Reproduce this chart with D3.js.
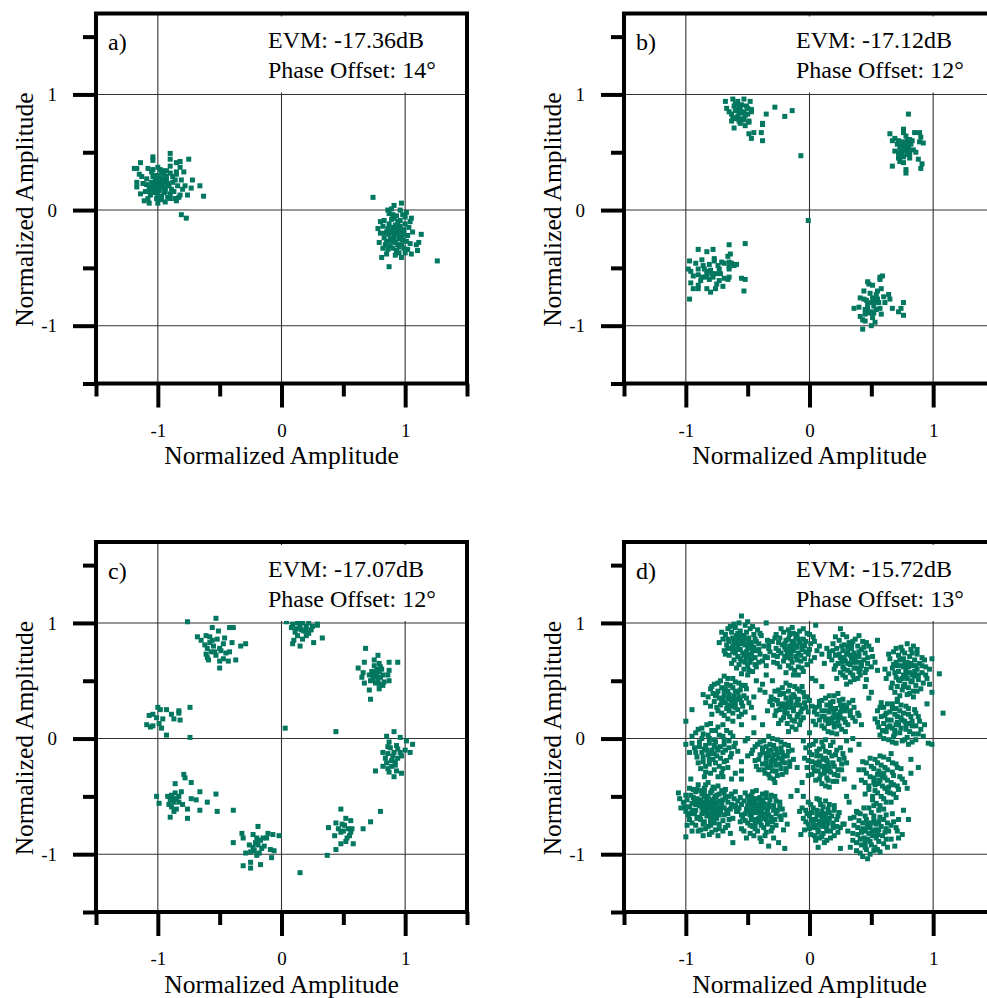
<!DOCTYPE html>
<html><head><meta charset="utf-8">
<script src="https://cdn.jsdelivr.net/npm/d3@7"></script>
<style>
body{margin:0;background:#fff}
text{font-family:"Liberation Serif","Times New Roman",serif;fill:#000}
</style></head><body><div id="chart"></div>
<script>
const panelLabels = ['a)', 'b)', 'c)', 'd)']
const evmLabels = ['EVM: -17.36dB', 'EVM: -17.12dB', 'EVM: -17.07dB', 'EVM: -15.72dB']
const phaseLabels = ['Phase Offset: 14°', 'Phase Offset: 12°', 'Phase Offset: 12°', 'Phase Offset: 13°']
const axisTitle = 'Normalized Amplitude'
const majorTicks = [-1, 0, 1]
const minorTicks = [-1.5, -0.5, 0.5, 1.5]
const gridValues = [-1, 0, 1]
const xDomain = [-1.5, 1.5]
const yDomain = [-1.5, 1.7]

// a) BPSK
const pointsA = [
[-.90,.49],[-1.04,.46],[-1.04,.43],[-.90,.44],[-.75,.44],[-1.14,.41],[-.85,.41],[-.82,.42],[-.90,.38],[-.82,.37],[-1.19,.36],[-1.17,.36],[-1.08,.36],[-1.04,.35],[-.96,.34],[-.90,.32],[-.85,.33],[-.85,.31],[-.79,.33],[-.72,.26],[-.81,.26],[-.66,.21],[-.73,.19],[-.76,.13],[-.63,.12],[-.81,-.04],[-.77,-.07],[-1.07,.06],[-1.17,.20],[-1.17,.24],
[-1.0,.22],[-.98,.25],[-1.02,.19],[-.96,.2],[-1.05,.24],[-.99,.28],[-1.03,.15],[-.94,.16],[-1.07,.2],[-.97,.12],[-1.01,.3],[-.93,.26],[-1.09,.27],[-1.1,.16],[-.95,.31],[-1.04,.29],[-.91,.21],[-.99,.17],[-1.06,.13],[-.92,.11],[-1.12,.23],[-.97,.09],[-1.01,.1],[-.89,.18],[-.88,.24],[-1.13,.29],[-1.05,.33],[-.98,.35],[-.93,.29],[-1.08,.1],[-.95,.24],[-1.02,.26],[-.99,.21],[-1.03,.22],[-.96,.27],[-1.0,.14],[-.94,.19],[-1.06,.17],[-.9,.14],[-.86,.1],[-.87,.16],[-.84,.21],[-.82,.13],[-.85,.08],[-.8,.18],[-.88,.29],[-1.14,.14],[-1.11,.08],[-1.0,.06],[-.94,.07],[-.97,.32],[-1.15,.31],[-1.0,.37],[-.9,.1],[-.83,.11],[-.78,.21],[-.86,.26],[-1.01,.17],[-.97,.23],[-1.04,.2],[-.98,.19],[-1.02,.23],[-.95,.15],[-1.09,.22],[-.92,.23],[-.99,.11],[-.93,.34],
[.74,.11],[.97,.06],[.91,.04],[.86,0],[.89,.01],[.96,0],[1.01,-.02],[1.05,-.07],[1.13,-.21],[1.11,-.28],[1.09,-.30],[1.10,-.35],[1.05,-.38],[.81,-.41],[.87,-.49],[1.26,-.44],[1.0,-.37],[.95,-.37],
[.93,-.2],[.9,-.15],[.96,-.23],[.88,-.25],[.99,-.17],[.85,-.19],[.92,-.28],[1.02,-.22],[.94,-.1],[.87,-.12],[.97,-.3],[.9,-.33],[1.0,-.12],[.83,-.24],[.95,-.16],[.89,-.08],[.84,-.3],[.98,-.26],[1.03,-.15],[.91,-.22],[.86,-.16],[.93,-.05],[.8,-.2],[.82,-.14],[.96,-.09],[1.04,-.29],[.88,-.31],[.93,-.35],[.99,-.33],[.85,-.27],[.92,-.13],[.9,-.19],[.95,-.25],[.97,-.19],[.87,-.21],[1.01,-.27],[.94,-.3],[.79,-.28],[.83,-.09],[.91,-.07],[.98,-.04],[1.06,-.19],[1.04,-.1],[.86,-.34],[.95,-.32],[.89,-.27],[.92,-.17],[.96,-.14],[.84,-.2],[.99,-.21],[.9,-.04],[.87,-.03],[.8,-.1],[1.02,-.34],[.94,-.21],[.91,-.26],[.97,-.24],[.88,-.18],[.93,-.14],[1.0,-.06],[.82,-.33],[.85,-.38],[.92,-.39],[.97,-.41],[.78,-.16]
]

// b) QPSK
const pointsB = [
[-.68,.94],[-.62,.96],[-.58,.94],[-.53,.96],[-.48,.94],[-.67,.88],[-.61,.9],[-.55,.91],[-.51,.9],[-.58,.87],[-.47,.87],[-.47,.85],[-.63,.83],[-.57,.84],[-.53,.85],[-.58,.81],[-.55,.78],[-.57,.77],[-.63,.77],[-.54,.79],[-.49,.77],[-.49,.76],[-.61,.71],[-.49,.66],[-.45,.67],[-.47,.62],[-.39,.67],[-.38,.75],[-.38,.74],[-.38,.6],[-.35,.83],[-.28,.89],[-.2,.81],[-.14,.86],[-.07,.47],[-.01,-.09],
[-.6,.86],[-.56,.88],[-.52,.82],[-.59,.79],[-.54,.84],[-.5,.88],[-.62,.8],[-.56,.75],[-.52,.73],[-.6,.92],[-.65,.85],[-.5,.83],[-.57,.9],[-.53,.78],
[.80,.83],[.65,.66],[.69,.62],[.67,.6],[.76,.7],[.76,.67],[.78,.64],[.81,.61],[.85,.67],[.89,.67],[.9,.63],[.89,.59],[.92,.58],[.69,.51],[.72,.49],[.84,.52],[.86,.5],[.73,.42],[.76,.41],[.81,.45],[.88,.44],[.91,.4],[.9,.36],[.67,.38],[.78,.35],[.78,.32],
[.74,.55],[.77,.58],[.8,.53],[.72,.6],[.79,.48],[.75,.5],[.82,.57],[.76,.46],[.73,.53],[.78,.52],[.81,.49],[.77,.55],[.75,.59],[.8,.56],[.74,.47],[.83,.6],[.71,.57],[.79,.6],[.76,.52],[.72,.45],
[-.9,-.34],[-.83,-.36],[-.78,-.34],[-.65,-.3],[-.52,-.29],[-.64,-.38],[-.66,-.4],[-.97,-.44],[-.92,-.46],[-.87,-.43],[-.77,-.42],[-.77,-.44],[-.71,-.45],[-.69,-.46],[-.65,-.45],[-.63,-.46],[-.59,-.47],[-.61,-.48],[-.73,-.51],[-.65,-.49],[-.65,-.51],[-.98,-.51],[-.96,-.53],[-.9,-.51],[-.85,-.51],[-.83,-.53],[-.8,-.52],[-.94,-.57],[-.9,-.56],[-.87,-.58],[-.83,-.56],[-.79,-.55],[-.76,-.55],[-.69,-.59],[-.66,-.6],[-.65,-.58],[-.55,-.59],[-.52,-.6],[-.96,-.63],[-.94,-.68],[-.9,-.65],[-.9,-.68],[-.83,-.68],[-.8,-.71],[-.76,-.68],[-.75,-.64],[-.73,-.61],[-.53,-.7],[-.97,-.77],[-.84,-.58],[-.81,-.6],
[-.86,-.48],[-.81,-.47],[-.74,-.48],[-.78,-.58],[-.72,-.55],[-.88,-.61],[-.7,-.66],
[.59,-.57],[.57,-.58],[.57,-.6],[.47,-.62],[.51,-.65],[.48,-.64],[.44,-.7],[.55,-.7],[.54,-.73],[.64,-.73],[.65,-.77],[.41,-.76],[.44,-.77],[.46,-.78],[.51,-.76],[.53,-.79],[.55,-.77],[.56,-.8],[.61,-.8],[.67,-.85],[.76,-.8],[.74,-.85],[.72,-.88],[.76,-.91],[.36,-.85],[.4,-.84],[.45,-.86],[.47,-.85],[.5,-.88],[.58,-.9],[.41,-.92],[.43,-.95],[.45,-.96],[.51,-.93],[.53,-.97],[.5,-1.0],[.43,-1.03],[.48,-.89],[.52,-.89],
[.49,-.72],[.52,-.83],[.57,-.85],[.47,-.81],[.54,-.86],[.6,-.75],[.5,-.8],[.58,-.68],[.45,-.9]
]

// c) 8-PSK
const pointsC = [
[-.76,1.01],[-.53,1.04],[-.56,.96],[-.51,.93],[-.42,.96],[-.39,.96],[-.68,.88],[-.65,.85],[-.61,.89],[-.58,.88],[-.56,.85],[-.62,.81],[-.46,.87],[-.4,.83],[-.33,.8],[-.29,.82],[-.61,.73],[-.57,.75],[-.54,.75],[-.49,.76],[-.42,.75],[-.59,.68],[-.5,.67],[-.47,.69],[-.43,.67],[-.37,.68],[-.5,.61],[-.6,.7],
[-.55,.8],[-.5,.78],[-.58,.83],[-.47,.82],[-.53,.72],[-.45,.74],[-.6,.78],[-.52,.86],
[.04,1.01],[.09,.99],[.13,1.0],[.17,1.0],[.22,1.0],[.29,.99],[.12,.95],[.16,.94],[.2,.97],[.24,.94],[.29,.98],[.13,.89],[.2,.89],[.09,.82],[.15,.8],[.1,.85],[.26,.83],[.33,.87],
[.18,.93],[.11,.92],[.22,.91],[.15,.97],[.08,.96],[.25,.97],[.17,.86],[.2,.94],
[.68,.78],[.78,.72],[.75,.68],[.79,.65],[.67,.66],[.62,.61],[.66,.57],[.65,.53],[.87,.66],[.94,.66],[.87,.59],[.86,.55],[.87,.5],[.71,.42],[.72,.34],[.79,.43],[.67,.48],[.82,.46],
[.74,.56],[.77,.6],[.8,.53],[.72,.5],[.76,.48],[.79,.58],[.75,.63],[.82,.55],[.73,.58],[.78,.51],[.81,.6],[.74,.52],[.77,.54],[.83,.49],[.76,.57],[.79,.47],[.71,.55],[.8,.62],
[.91,.06],[.85,.02],[.96,.01],[.87,-.03],[.93,-.06],[1.01,-.02],[1.06,-.05],[.82,-.12],[.86,-.13],[.91,-.12],[.96,-.12],[1.0,-.1],[1.04,-.12],[.84,-.17],[.89,-.19],[.94,-.17],[.82,-.24],[.86,-.26],[.92,-.23],[.76,-.28],[.87,-.29],[.91,-.33],[.93,-.28],[.97,-.3],
[.9,-.15],[.88,-.08],[.94,-.09],[.85,-.21],[.92,-.2],[.97,-.15],[.89,-.24],[.86,-.07],
[.48,-.61],[.8,-.63],[.52,-.69],[.56,-.71],[.44,-.73],[.72,-.72],[.66,-.78],[.38,-.77],[.51,-.75],[.54,-.78],[.57,-.78],[.43,-.84],[.48,-.81],[.55,-.84],[.48,-.91],[.52,-.89],[.58,-.91],[.44,-.96],[.37,-1.01],
[.5,-.8],[.46,-.78],[.53,-.86],[.49,-.74],[.56,-.81],
[-.19,-.76],[-.32,-.82],[-.31,-.86],[-.23,-.83],[-.2,-.86],[-.11,-.82],[-.07,-.83],[-.02,-.84],[-.15,-.86],[-.12,-.86],[-.39,-.9],[-.26,-.92],[-.23,-.94],[-.19,-.92],[-.16,-.95],[-.29,-.99],[-.25,-.98],[-.2,-1.01],[-.18,-.99],[-.09,-.96],[-.06,-.97],[-.08,-1.03],[-.25,-1.07],[-.17,-1.09],[-.31,-1.1],[-.25,-1.12],
[-.21,-.9],[-.14,-.93],[-.22,-.97],[-.17,-.88],
[-.79,-.31],[-.78,-.34],[-.73,-.38],[-.86,-.39],[-1.01,-.5],[-.99,-.56],[-.92,-.5],[-.89,-.49],[-.9,-.53],[-.87,-.55],[-.85,-.52],[-.83,-.5],[-.81,-.46],[-.85,-.61],[-.87,-.63],[-.89,-.59],[-.9,-.68],[-.76,-.61],[-.76,-.69],[-.73,-.52],[-.69,-.53],[-.66,-.46],[-.6,-.55],[-.53,-.48],[-.66,-.62],[-.52,-.63],[-.39,-.62],
[-.83,-.55],[-.88,-.52],[-.86,-.47],[-.8,-.57],[-.91,-.57],
[-1.0,.27],[-.98,.25],[-.93,.25],[-.83,.24],[-.83,.22],[-.74,.27],[-1.07,.2],[-1.04,.21],[-1.01,.18],[-.89,.21],[-.87,.17],[-.82,.16],[-1.09,.12],[-1.06,.1],[-1.04,.11],[-.99,.13],[-.97,.09],[-.93,.03],[-.96,.17],
[-.74,.01],[.03,.09],[.44,.06],[.15,-1.16]
]

// d) 16-QAM
const pointsD = [
[-.55,1.06],[-.57,1.0],[-.52,.98],[-.6,.96],[-.66,.95],[-.48,.95],[-.42,.94],[-.63,.92],[-.56,.93],[-.51,.92],[-.45,.9],[-.68,.9],[-.59,.89],[-.53,.89],[-.39,.89],[-.62,.87],[-.57,.86],[-.49,.87],[-.44,.86],[-.7,.86],[-.65,.84],[-.6,.83],[-.54,.84],[-.47,.83],[-.41,.82],[-.67,.81],[-.58,.8],[-.52,.81],[-.45,.79],[-.37,.8],[-.63,.78],[-.56,.77],[-.5,.78],[-.43,.76],[-.69,.76],[-.6,.74],[-.54,.74],[-.47,.73],[-.4,.73],[-.65,.72],[-.58,.71],[-.51,.7],[-.44,.7],[-.61,.68],[-.55,.67],[-.48,.66],[-.38,.67],[-.57,.64],[-.5,.63],[-.43,.62],[-.53,.6],[-.46,.58],[-.35,.63],[-.58,.82],[-.62,.8],[-.5,.85],[-.55,.89],[-.46,.76],[-.53,.72],[-.66,.78],[-.6,.86],[-.49,.81],[-.41,.66],[-.34,.85],
[-.61,.99],[-.5,1.01],[-.64,.97],[-.46,.97],[-.71,.92],[-.4,.91],[-.58,.91],[-.53,.87],[-.66,.86],[-.43,.84],[-.59,.77],[-.48,.79],[-.62,.75],[-.51,.75],[-.41,.77],[-.68,.73],[-.56,.69],[-.47,.69],[-.36,.71],[-.63,.65],[-.52,.66],[-.44,.64],[-.59,.61],[-.49,.59],[-.55,.56],[-.73,.83],[-.33,.78],[-.61,.84],[-.55,.82],[-.5,.72],
[-.14,.96],[-.08,.93],[-.21,.92],[-.02,.91],[-.27,.9],[-.16,.9],[-.11,.88],[.03,.88],[-.24,.87],[-.05,.86],[-.19,.85],[-.13,.84],[-.3,.84],[-.08,.83],[.01,.82],[-.22,.81],[-.16,.8],[-.1,.79],[-.04,.8],[-.27,.78],[-.19,.77],[-.13,.76],[-.06,.77],[.06,.76],[-.32,.75],[-.23,.74],[-.15,.73],[-.09,.74],[-.01,.73],[-.26,.71],[-.18,.7],[-.11,.71],[-.04,.69],[.04,.7],[-.21,.67],[-.14,.66],[-.07,.67],[-.29,.66],[-.17,.63],[-.09,.62],[-.02,.64],[-.24,.62],[-.12,.59],[-.05,.58],[-.2,.79],[-.12,.81],[-.07,.72],[-.15,.69],[-.25,.83],[0,.77],[-.1,.9],[-.18,.74],[-.03,.84],[.08,.8],[-.34,.7],[-.13,.55],
[-.17,.94],[-.05,.95],[-.23,.95],[0,.9],[-.13,.91],[-.28,.87],[-.17,.86],[-.09,.86],[-.33,.81],[-.2,.82],[-.06,.81],[.04,.84],[-.25,.76],[-.14,.79],[-.03,.75],[.1,.73],[-.29,.72],[-.2,.71],[-.1,.68],[.01,.67],[-.26,.65],[-.15,.61],[-.06,.61],[-.19,.57],[-.09,.55],[-.14,.83],[-.17,.76],
[.3,.88],[.37,.86],[.24,.85],[.43,.84],[.32,.83],[.19,.82],[.28,.81],[.39,.8],[.48,.8],[.22,.78],[.34,.78],[.42,.77],[.27,.76],[.16,.75],[.36,.74],[.45,.74],[.3,.73],[.21,.72],[.4,.71],[.51,.71],[.25,.7],[.34,.69],[.44,.68],[.18,.68],[.29,.67],[.38,.66],[.47,.65],[.23,.65],[.33,.64],[.42,.63],[.27,.62],[.36,.61],[.5,.62],[.2,.6],[.31,.59],[.4,.58],[.45,.57],[.25,.57],[.35,.55],[.29,.53],[.39,.52],[.33,.49],[.31,.75],[.37,.71],[.26,.66],[.41,.6],[.35,.66],[.28,.7],[.44,.79],[.14,.78],[.53,.66],[.22,.52],[.46,.51],[.34,.82],
[.27,.9],[.4,.89],[.21,.88],[.35,.84],[.46,.83],[.26,.8],[.31,.79],[.5,.77],[.19,.76],[.4,.75],[.33,.72],[.24,.73],[.47,.7],[.16,.71],[.37,.68],[.31,.65],[.42,.66],[.21,.63],[.38,.61],[.28,.6],[.46,.6],[.33,.57],[.41,.55],[.27,.55],[.36,.51],[.3,.47],[.55,.59],[.12,.65],
[.74,.79],[.82,.77],[.68,.75],[.77,.74],[.87,.73],[.72,.72],[.81,.71],[.91,.7],[.65,.69],[.76,.69],[.85,.68],[.7,.66],[.79,.66],[.89,.65],[.74,.63],[.83,.63],[.94,.62],[.67,.61],[.78,.6],[.87,.6],[.72,.58],[.81,.57],[.91,.57],[.64,.56],[.76,.55],[.85,.54],[.7,.53],[.79,.52],[.88,.51],[.95,.52],[.73,.5],[.82,.49],[.67,.48],[.77,.47],[.86,.46],[.71,.45],[.8,.44],[.9,.43],[.75,.42],[.84,.41],[.69,.4],[.79,.38],[.73,.37],[.78,.57],[.8,.62],[.75,.52],[.83,.55],[.86,.63],[.71,.63],[.92,.48],[.62,.52],[.84,.8],[1.05,.56],[.97,.6],[.77,.65],
[.79,.82],[.7,.78],[.87,.77],[.75,.76],[.64,.73],[.83,.74],[.93,.68],[.73,.68],[.82,.65],[.68,.64],[.91,.63],[.76,.62],[.85,.58],[.69,.57],[.94,.55],[.78,.54],[.88,.55],[.72,.51],[.83,.5],[.66,.44],[.76,.45],[.87,.41],[.81,.39],[.71,.34],[.84,.36],[.97,.47],[.61,.6],[.99,.69],
[-.66,.52],[-.72,.5],[-.6,.49],[-.77,.47],[-.67,.47],[-.55,.46],[-.71,.44],[-.62,.44],[-.8,.43],[-.51,.43],[-.74,.41],[-.66,.41],[-.58,.4],[-.78,.39],[-.69,.38],[-.61,.37],[-.53,.37],[-.82,.36],[-.73,.35],[-.64,.34],[-.56,.34],[-.77,.32],[-.68,.31],[-.6,.31],[-.49,.31],[-.72,.29],[-.63,.28],[-.54,.28],[-.8,.28],[-.67,.26],[-.58,.25],[-.74,.24],[-.62,.22],[-.52,.23],[-.69,.2],[-.65,.38],[-.7,.35],[-.6,.41],[-.63,.33],[-.57,.36],[-.75,.38],[-.68,.43],[-.45,.36],[-.47,.27],[-.57,.19],[-.84,.31],[-.66,.29],[-.5,.55],[-.43,.5],[-.38,.47],[-.55,.12],[-.62,.15],[-.45,.18],
[-.69,.54],[-.62,.52],[-.74,.48],[-.57,.48],[-.64,.46],[-.52,.46],[-.79,.45],[-.69,.42],[-.56,.42],[-.76,.37],[-.66,.35],[-.59,.34],[-.51,.35],[-.71,.32],[-.62,.3],[-.55,.31],[-.75,.27],[-.65,.24],[-.6,.27],[-.71,.22],[-.55,.21],[-.66,.17],[-.79,.21],[-.86,.38],
[-.16,.46],[-.22,.44],[-.1,.43],[-.28,.41],[-.17,.41],[-.05,.4],[-.24,.38],[-.13,.38],[-.31,.36],[-.02,.36],[-.19,.35],[-.09,.34],[-.26,.33],[-.15,.32],[-.04,.31],[-.21,.3],[-.11,.29],[-.3,.29],[-.17,.27],[-.06,.26],[-.24,.25],[-.13,.24],[-.01,.23],[-.2,.22],[-.09,.21],[-.28,.2],[-.16,.19],[-.05,.18],[-.23,.16],[-.12,.15],[-.18,.13],[-.08,.12],[-.14,.1],[-.15,.28],[-.1,.32],[-.2,.26],[-.12,.36],[-.07,.23],[-.25,.3],[-.34,.24],[.02,.28],[-.17,.06],[-.36,.4],
[-.19,.48],[-.12,.45],[-.25,.42],[-.08,.41],[-.21,.39],[-.15,.36],[-.04,.36],[-.29,.34],[-.17,.31],[-.08,.29],[-.23,.28],[-.13,.26],[-.03,.27],[-.27,.24],[-.18,.22],[-.1,.19],[-.21,.18],[-.14,.16],[-.07,.16],[-.25,.13],[-.11,.08],[-.32,.32],[0,.33],[-.06,.45],
[.2,.37],[.13,.35],[.27,.34],[.08,.32],[.19,.32],[.32,.31],[.14,.29],[.25,.29],[.05,.27],[.36,.27],[.21,.26],[.1,.24],[.29,.24],[.16,.23],[.39,.22],[.06,.21],[.24,.21],[.33,.2],[.12,.19],[.19,.18],[.28,.17],[.08,.16],[.23,.15],[.37,.15],[.15,.13],[.31,.12],[.1,.11],[.2,.1],[.26,.08],[.15,.06],[.22,.04],[.2,.22],[.17,.27],[.25,.18],[.13,.16],[.3,.27],[.18,.14],[.42,.12],[.03,.15],
[.23,.39],[.16,.37],[.1,.33],[.24,.33],[.35,.33],[.17,.31],[.28,.29],[.08,.28],[.19,.26],[.33,.24],[.13,.24],[.25,.23],[.04,.23],[.22,.19],[.35,.18],[.1,.19],[.16,.17],[.29,.14],[.05,.12],[.2,.13],[.12,.09],[.24,.11],[.18,.05],[.29,.06],[.4,.2],[.26,.26],
[.67,.3],[.74,.29],[.6,.27],[.7,.26],[.8,.26],[.55,.24],[.65,.23],[.76,.22],[.86,.22],[.61,.2],[.71,.19],[.82,.19],[.53,.17],[.66,.16],[.77,.15],[.89,.15],[.6,.13],[.72,.12],[.83,.11],[.56,.1],[.67,.09],[.78,.08],[.9,.08],[.62,.06],[.73,.05],[.84,.04],[.57,.03],[.68,.02],[.79,.01],[.64,-.01],[.75,-.02],[.86,-.01],[.7,-.04],[.8,-.05],[.7,.12],[.75,.16],[.65,.11],[.8,.13],[.69,.07],[.92,.02],[.96,-.04],[.99,-.05],[1.08,.22],[.58,.31],
[.71,.32],[.63,.3],[.78,.28],[.57,.27],[.67,.26],[.85,.25],[.73,.24],[.62,.22],[.8,.21],[.69,.21],[.58,.19],[.88,.19],[.74,.18],[.63,.16],[.83,.15],[.71,.14],[.55,.14],[.78,.12],[.86,.11],[.63,.1],[.74,.09],[.59,.07],[.81,.06],[.69,.04],[.88,.04],[.6,0],[.77,-.01],[.67,-.03],[.83,-.03],[.93,.12],
[-.83,.12],[-.74,.1],[-.9,.08],[-.79,.07],[-.67,.07],[-.86,.04],[-.73,.03],[-.95,.02],[-.62,.02],[-.81,0],[-.69,-.01],[-.89,-.03],[-.76,-.03],[-.6,-.04],[-.84,-.06],[-.72,-.07],[-.93,-.08],[-.65,-.08],[-.79,-.1],[-.87,-.12],[-.7,-.12],[-.58,-.11],[-.82,-.14],[-.75,-.15],[-.91,-.16],[-.64,-.16],[-.78,-.18],[-.86,-.2],[-.69,-.2],[-.81,-.22],[-.73,-.24],[-.88,-.26],[-.66,-.25],[-.77,-.27],[-.84,-.29],[-.71,-.3],[-.77,-.06],[-.8,-.13],[-.74,-.1],[-.85,-.09],[-.97,-.12],[-1.0,-.05],[-.52,-.02],[-.55,-.2],
[-.8,.13],[-.7,.12],[-.87,.09],[-.76,.07],[-.64,.05],[-.92,.05],[-.82,.03],[-.7,.02],[-.87,0],[-.77,-.01],[-.65,-.02],[-.95,-.04],[-.81,-.04],[-.69,-.05],[-.89,-.07],[-.75,-.08],[-.61,-.07],[-.83,-.1],[-.68,-.1],[-.92,-.12],[-.77,-.13],[-.63,-.13],[-.86,-.16],[-.72,-.17],[-.81,-.18],[-.67,-.19],[-.9,-.21],[-.76,-.21],[-.84,-.24],[-.7,-.26],[-.8,-.3],[-.74,-.33],
[-.3,0],[-.37,-.02],[-.23,-.03],[-.42,-.05],[-.32,-.05],[-.17,-.06],[-.38,-.08],[-.27,-.09],[-.46,-.1],[-.14,-.1],[-.33,-.11],[-.22,-.12],[-.4,-.14],[-.29,-.14],[-.18,-.15],[-.35,-.17],[-.25,-.17],[-.44,-.19],[-.13,-.18],[-.31,-.2],[-.2,-.21],[-.38,-.22],[-.27,-.23],[-.16,-.24],[-.34,-.25],[-.23,-.26],[-.41,-.27],[-.3,-.28],[-.19,-.29],[-.36,-.3],[-.26,-.32],[-.32,-.34],[-.3,-.18],[-.26,-.14],[-.35,-.13],[-.22,-.19],[-.5,-.15],[-.1,-.25],[-.28,-.38],
[-.33,.02],[-.26,-.01],[-.4,-.03],[-.2,-.05],[-.35,-.07],[-.29,-.06],[-.44,-.07],[-.23,-.08],[-.31,-.1],[-.17,-.11],[-.38,-.12],[-.26,-.12],[-.47,-.13],[-.21,-.15],[-.33,-.15],[-.41,-.18],[-.28,-.19],[-.16,-.2],[-.35,-.21],[-.24,-.22],[-.43,-.24],[-.31,-.24],[-.19,-.26],[-.37,-.27],[-.27,-.28],[-.22,-.31],[-.33,-.31],[-.29,-.35],
[.1,-.03],[.03,-.05],[.17,-.06],[-.03,-.08],[.08,-.09],[.22,-.1],[.13,-.11],[0,-.12],[.27,-.13],[.06,-.15],[.18,-.15],[-.04,-.17],[.11,-.18],[.24,-.18],[.02,-.2],[.15,-.21],[.3,-.21],[.07,-.23],[.2,-.24],[-.02,-.25],[.12,-.26],[.26,-.27],[.04,-.28],[.17,-.29],[.09,-.31],[.23,-.32],[-.01,-.32],[.14,-.34],[.05,-.36],[.19,-.37],[.1,-.39],[.16,-.42],[.12,-.24],[.08,-.2],[.15,-.28],[.13,-.17],[.33,-.1],[.28,-.35],[-.06,-.38],
[.13,-.01],[.05,-.02],[.19,-.03],[0,-.06],[.11,-.07],[.25,-.08],[.06,-.11],[.16,-.12],[.02,-.14],[.21,-.14],[.09,-.15],[.28,-.17],[-.01,-.19],[.14,-.19],[.05,-.21],[.19,-.21],[.26,-.22],[.1,-.24],[.03,-.25],[.16,-.25],[.23,-.27],[.07,-.28],[.12,-.3],[.2,-.31],[.02,-.31],[.15,-.36],[.08,-.35],[.22,-.37],[.13,-.41],
[.57,-.15],[.49,-.17],[.64,-.18],[.43,-.2],[.55,-.21],[.7,-.22],[.5,-.24],[.61,-.25],[.74,-.26],[.4,-.27],[.56,-.28],[.67,-.29],[.46,-.3],[.59,-.32],[.73,-.33],[.52,-.34],[.63,-.36],[.42,-.36],[.77,-.38],[.56,-.39],[.68,-.4],[.48,-.41],[.61,-.43],[.72,-.44],[.53,-.45],[.65,-.47],[.45,-.48],[.58,-.5],[.7,-.51],[.51,-.53],[.62,-.55],[.57,-.58],[.56,-.36],[.6,-.3],[.52,-.38],[.64,-.42],[.82,-.3],[.79,-.43],[.36,-.42],[.66,-.13],
[.6,-.16],[.53,-.18],[.46,-.21],[.67,-.21],[.58,-.23],[.52,-.26],[.71,-.25],[.63,-.27],[.44,-.27],[.55,-.31],[.68,-.32],[.49,-.33],[.61,-.34],[.75,-.35],[.57,-.36],[.45,-.38],[.66,-.38],[.53,-.4],[.71,-.41],[.59,-.41],[.48,-.44],[.63,-.46],[.55,-.47],[.68,-.48],[.51,-.5],[.6,-.52],[.66,-.55],[.54,-.56],
[-.82,-.38],[-.9,-.4],[-.74,-.41],[-.97,-.43],[-.85,-.43],[-.68,-.44],[-.79,-.45],[-.92,-.46],[-.6,-.46],[-.87,-.48],[-.73,-.48],[-1.0,-.49],[-.82,-.5],[-.65,-.5],[-.94,-.51],[-.77,-.52],[-.88,-.53],[-.7,-.53],[-.58,-.54],[-1.02,-.55],[-.84,-.55],[-.75,-.56],[-.92,-.57],[-.63,-.57],[-.8,-.58],[-.97,-.59],[-.69,-.6],[-.87,-.6],[-.76,-.62],[-1.0,-.63],[-.59,-.63],[-.83,-.64],[-.93,-.65],[-.66,-.65],[-.73,-.66],[-.89,-.68],[-.8,-.68],[-.62,-.69],[-.97,-.7],[-.7,-.71],[-.85,-.72],[-.77,-.73],[-.92,-.75],[-.66,-.75],[-.82,-.76],[-.73,-.78],[-.88,-.79],[-.79,-.81],[-.84,-.58],[-.78,-.55],[-.86,-.63],[-.74,-.6],[-.81,-.66],[-.9,-.55],[-.71,-.57],[-.76,-.5],[-.83,-.52],[-.95,-.62],[-.67,-.62],[-.79,-.63],[-.88,-.7],[-.75,-.69],[-.85,-.46],[-.93,-.53],[-.98,-.66],[-.82,-.6],[-.77,-.65],[-.87,-.57],[-.72,-.63],[-.8,-.71],[-1.05,-.52],[-1.04,-.6],[-.99,-.75],[-.95,-.8],[-.7,-.8],[-.64,-.82],[-.86,-.84],[-.91,-.44],[-.78,-.42],[-.69,-.47],[-1.06,-.47],[-.63,-.35],[-.7,-.33],[-.85,-.33],[-.96,-.35],
[-.84,-.4],[-.77,-.43],[-.94,-.44],[-.71,-.45],[-.88,-.45],[-.8,-.47],[-.63,-.48],[-.96,-.49],[-.75,-.49],[-.85,-.5],[-.68,-.51],[-.91,-.52],[-.79,-.53],[-.61,-.52],[-.99,-.53],[-.73,-.54],[-.86,-.55],[-.66,-.55],[-.95,-.56],[-.81,-.56],[-.77,-.58],[-.89,-.58],[-.6,-.58],[-.71,-.59],[-1.01,-.59],[-.85,-.6],[-.79,-.61],[-.92,-.62],[-.64,-.61],[-.74,-.64],[-.87,-.65],[-.97,-.65],[-.69,-.66],[-.83,-.67],[-.91,-.69],[-.78,-.69],[-.65,-.7],[-.86,-.74],[-.73,-.74],[-.95,-.73],[-.8,-.75],[-.68,-.77],[-.84,-.78],[-.76,-.79],[-.9,-.8],[-.81,-.83],[-.74,-.84],
[-.43,-.45],[-.52,-.47],[-.35,-.47],[-.47,-.49],[-.28,-.5],[-.4,-.51],[-.56,-.51],[-.32,-.53],[-.49,-.54],[-.44,-.55],[-.24,-.55],[-.37,-.56],[-.55,-.57],[-.29,-.58],[-.46,-.59],[-.41,-.6],[-.51,-.61],[-.22,-.61],[-.34,-.62],[-.58,-.63],[-.43,-.64],[-.27,-.65],[-.48,-.66],[-.38,-.67],[-.54,-.68],[-.31,-.68],[-.44,-.7],[-.23,-.7],[-.4,-.72],[-.5,-.73],[-.34,-.74],[-.27,-.75],[-.46,-.76],[-.37,-.77],[-.55,-.78],[-.42,-.8],[-.31,-.8],[-.48,-.82],[-.36,-.84],[-.42,-.63],[-.39,-.58],[-.45,-.61],[-.36,-.65],[-.5,-.58],[-.33,-.59],[-.41,-.69],[-.47,-.7],[-.3,-.72],[-.52,-.65],[-.38,-.53],[-.44,-.74],[-.35,-.7],[-.26,-.62],[-.56,-.72],[-.2,-.66],[-.18,-.74],[-.21,-.79],[-.6,-.59],[-.51,-.86],[-.29,-.86],[-.39,-.89],[-.46,-.52],[-.43,-.58],[-.39,-.63],[-.48,-.63],[-.33,-.93],[-.25,-.9],
[-.46,-.46],[-.38,-.48],[-.31,-.49],[-.5,-.5],[-.43,-.52],[-.35,-.51],[-.53,-.54],[-.27,-.54],[-.4,-.55],[-.47,-.56],[-.33,-.57],[-.57,-.6],[-.44,-.58],[-.24,-.59],[-.37,-.6],[-.5,-.62],[-.29,-.62],[-.45,-.64],[-.4,-.65],[-.33,-.66],[-.55,-.66],[-.24,-.67],[-.47,-.68],[-.37,-.69],[-.28,-.7],[-.52,-.71],[-.42,-.72],[-.33,-.72],[-.48,-.75],[-.39,-.75],[-.3,-.77],[-.53,-.8],[-.44,-.78],[-.35,-.81],[-.45,-.84],[-.4,-.86],
[.06,-.52],[.13,-.54],[-.01,-.55],[.09,-.57],[.2,-.58],[.03,-.6],[-.06,-.6],[.15,-.61],[.1,-.63],[.24,-.64],[-.02,-.65],[.06,-.66],[.18,-.67],[.12,-.68],[-.05,-.69],[.02,-.7],[.22,-.7],[.08,-.72],[.15,-.73],[-.01,-.74],[.27,-.74],[.11,-.76],[.04,-.77],[.19,-.77],[-.04,-.79],[.14,-.8],[.07,-.81],[.23,-.81],[.01,-.83],[.1,-.85],[.17,-.86],[.05,-.88],[.12,-.9],[.08,-.72],[.1,-.68],[.05,-.75],[.14,-.7],[.02,-.64],[.16,-.64],[-.08,-.63],[.25,-.77],[-.07,-.83],[.07,-.94],
[.08,-.53],[.01,-.57],[.16,-.57],[.11,-.59],[-.03,-.62],[.06,-.62],[.2,-.62],[.13,-.65],[0,-.67],[.09,-.66],[.23,-.67],[.16,-.69],[.05,-.7],[-.03,-.72],[.12,-.72],[.19,-.73],[.03,-.74],[.09,-.75],[.22,-.76],[.14,-.77],[0,-.78],[.07,-.79],[.17,-.8],[.11,-.82],[.04,-.84],[.2,-.84],[.08,-.86],[.14,-.88],
[.52,-.58],[.44,-.6],[.6,-.61],[.38,-.63],[.5,-.64],[.67,-.65],[.45,-.67],[.57,-.68],[.33,-.69],[.72,-.7],[.4,-.71],[.52,-.71],[.63,-.73],[.47,-.74],[.36,-.75],[.58,-.76],[.7,-.77],[.43,-.78],[.53,-.79],[.64,-.8],[.31,-.8],[.48,-.82],[.39,-.83],[.59,-.84],[.75,-.83],[.44,-.86],[.54,-.86],[.66,-.87],[.35,-.88],[.49,-.89],[.6,-.91],[.42,-.92],[.53,-.94],[.46,-.96],[.38,-.97],[.57,-.98],[.49,-1.0],[.43,-1.02],[.51,-.8],[.47,-.77],[.55,-.83],[.5,-.73],[.42,-.81],[.62,-.78],[.56,-.72],[.45,-.9],[.69,-.93],[.76,-.62],[.28,-.74],[.39,-.64],[.33,-.94],
[.48,-.6],[.56,-.62],[.41,-.65],[.62,-.66],[.52,-.67],[.36,-.68],[.46,-.7],[.6,-.7],[.68,-.72],[.43,-.73],[.54,-.74],[.39,-.77],[.49,-.77],[.66,-.75],[.61,-.81],[.45,-.8],[.56,-.79],[.35,-.82],[.51,-.84],[.72,-.86],[.41,-.87],[.62,-.87],[.47,-.87],[.56,-.89],[.38,-.9],[.5,-.92],[.63,-.94],[.45,-.94],[.55,-.96],[.41,-.99],[.52,-.97],[.47,-1.04],[.71,-.8],
[-.35,.55],[-.3,.5],[.05,.5],[.1,.45],[.5,.4],[.48,.35],[-.45,.05],[-.5,0],[-.05,-.02],[0,.05],[.4,-.05],[.35,0],[-.55,-.35],[-.6,-.3],[-.1,-.45],[-.05,-.5],[.3,-.5],[.32,-.55],[.82,-.18],[.88,-.25],[.95,.3],[.99,.4],[-.95,.25],[-1.0,.15],[-.35,1.0],[.05,.98],[.55,.85],[.25,.95],[-.15,-.5],[.25,-.95],[.8,-.7],[-.2,-.95],[-.62,-.9],[-1.0,-.85],[-.4,.42],[.02,.52],[.45,.45],[-.38,.12],[-.55,-.28],[.3,-.02]
]

const panelPoints = [pointsA, pointsB, pointsC, pointsD]

const width = 987, height = 998
const W = 371, H = 370
const origins = [[96, 13.5], [624, 13.5], [96, 542], [624, 542]]
const markerColor = '#00775e'
const ms = 5

const svg = d3.select('#chart').append('svg')
  .attr('width', width).attr('height', height)
  .style('display', 'block')

const x = d3.scaleLinear().domain(xDomain).range([0, W])
const y = d3.scaleLinear().domain(yDomain).range([H, 0])
const fmt = d => String(d)

panelPoints.forEach((pts, i) => {
  const [ox, oy] = origins[i]
  const g = svg.append('g').attr('transform', `translate(${ox},${oy})`)

  // grid
  g.selectAll('.vg').data(gridValues).join('line')
    .attr('x1', d => x(d)).attr('x2', d => x(d)).attr('y1', 0).attr('y2', H)
    .attr('stroke', '#333').attr('stroke-width', 1.1)
  g.selectAll('.hg').data(gridValues).join('line')
    .attr('y1', d => y(d)).attr('y2', d => y(d)).attr('x1', 0).attr('x2', W)
    .attr('stroke', '#333').attr('stroke-width', 1.1)

  // points
  g.append('g').selectAll('rect').data(pts).join('rect')
    .attr('x', d => x(d[0]) - ms / 2).attr('y', d => y(d[1]) - ms / 2)
    .attr('width', ms).attr('height', ms)
    .attr('fill', markerColor)

  // annotation box
  g.append('rect').attr('x', 160).attr('y', 3).attr('width', 209).attr('height', 76).attr('fill', '#fff')
  g.append('text').attr('x', 12).attr('y', 36.5).style('font-size', '24px').text(panelLabels[i])
  g.append('text').attr('x', 172).attr('y', 34.5).style('font-size', '24px').text(evmLabels[i])
  g.append('text').attr('x', 172).attr('y', 64.5).style('font-size', '24px').text(phaseLabels[i])

  // axes: major ticks with labels, minor ticks without
  const styleAxis = a => {
    a.select('.domain').remove()
    a.selectAll('line').attr('stroke', '#000').attr('stroke-width', 4)
    a.selectAll('text').style('font-size', '19px').attr('fill', '#000')
  }
  g.append('g').call(d3.axisLeft(y).tickValues(majorTicks).tickSize(23).tickPadding(16).tickFormat(fmt)).call(styleAxis)
  g.append('g').call(d3.axisLeft(y).tickValues(minorTicks).tickSize(13).tickFormat('')).call(styleAxis)
  g.append('g').attr('transform', `translate(0,${H})`)
    .call(d3.axisBottom(x).tickValues(majorTicks).tickSize(24).tickPadding(16).tickFormat(fmt)).call(styleAxis)
  g.append('g').attr('transform', `translate(0,${H})`)
    .call(d3.axisBottom(x).tickValues(minorTicks).tickSize(13).tickFormat('')).call(styleAxis)

  // frame
  g.append('rect').attr('width', W).attr('height', H)
    .attr('fill', 'none').attr('stroke', '#000').attr('stroke-width', 4)

  // axis titles
  g.append('text').attr('x', W / 2).attr('y', H + 80.5)
    .attr('text-anchor', 'middle').style('font-size', '25.5px').text(axisTitle)
  g.append('text').attr('transform', `translate(-63,${H * 0.53}) rotate(-90)`)
    .attr('text-anchor', 'middle').style('font-size', '25.5px').text(axisTitle)
})
</script></body></html>
